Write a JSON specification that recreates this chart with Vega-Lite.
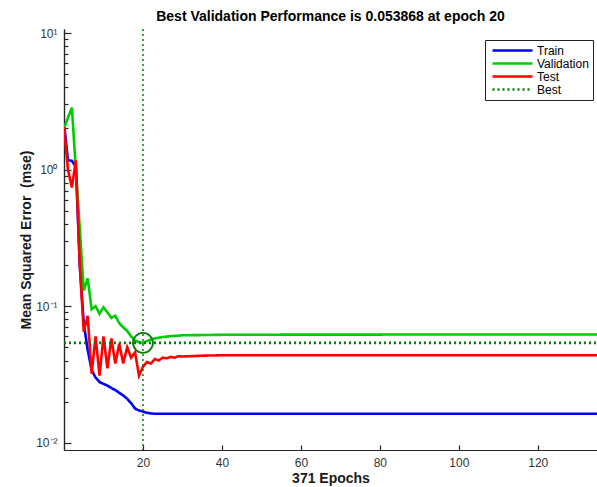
{
  "$schema": "https://vega.github.io/schema/vega-lite/v6.json",
  "width": 533,
  "height": 421,
  "autosize": {"type": "none"},
  "padding": {"left": 64, "top": 29, "right": 0, "bottom": 37},
  "background": "white",
  "config": {
    "view": {"stroke": null},
    "font": "Liberation Sans",
    "axis": {"grid": false, "domainColor": "#262626", "domainWidth": 1.2, "tickColor": "#262626", "tickWidth": 1.2, "labelColor": "#333333", "labelFont": "Liberation Sans", "labelFontSize": 12, "titleFont": "Liberation Sans", "titleFontSize": 14, "titleFontWeight": "bold", "titleColor": "#1a1a1a"}
  },
  "title": {"text": "Best Validation Performance is 0.053868 at epoch 20", "fontSize": 14, "fontWeight": "bold", "font": "Liberation Sans", "color": "black", "anchor": "middle", "baseline": "alphabetic", "offset": -8},
  "datasets": {
    "curves": [
      {"epoch": 0, "series": "Train", "mse": 2.2},
      {"epoch": 1, "series": "Train", "mse": 1.17},
      {"epoch": 2, "series": "Train", "mse": 1.16},
      {"epoch": 3, "series": "Train", "mse": 1.05},
      {"epoch": 4, "series": "Train", "mse": 0.2},
      {"epoch": 5, "series": "Train", "mse": 0.075},
      {"epoch": 6, "series": "Train", "mse": 0.048},
      {"epoch": 7, "series": "Train", "mse": 0.034},
      {"epoch": 8, "series": "Train", "mse": 0.03},
      {"epoch": 9, "series": "Train", "mse": 0.0278},
      {"epoch": 10, "series": "Train", "mse": 0.027},
      {"epoch": 11, "series": "Train", "mse": 0.0262},
      {"epoch": 12, "series": "Train", "mse": 0.0252},
      {"epoch": 13, "series": "Train", "mse": 0.0243},
      {"epoch": 14, "series": "Train", "mse": 0.0232},
      {"epoch": 15, "series": "Train", "mse": 0.0222},
      {"epoch": 16, "series": "Train", "mse": 0.021},
      {"epoch": 17, "series": "Train", "mse": 0.0195},
      {"epoch": 18, "series": "Train", "mse": 0.0178},
      {"epoch": 19, "series": "Train", "mse": 0.0172},
      {"epoch": 20, "series": "Train", "mse": 0.0169},
      {"epoch": 21, "series": "Train", "mse": 0.0166},
      {"epoch": 22, "series": "Train", "mse": 0.0164},
      {"epoch": 23, "series": "Train", "mse": 0.0163},
      {"epoch": 30, "series": "Train", "mse": 0.0163},
      {"epoch": 60, "series": "Train", "mse": 0.0163},
      {"epoch": 100, "series": "Train", "mse": 0.0163},
      {"epoch": 135, "series": "Train", "mse": 0.0163},
      {"epoch": 0, "series": "Validation", "mse": 2.0},
      {"epoch": 1, "series": "Validation", "mse": 2.4},
      {"epoch": 2, "series": "Validation", "mse": 2.84},
      {"epoch": 3, "series": "Validation", "mse": 1.0},
      {"epoch": 4, "series": "Validation", "mse": 0.37},
      {"epoch": 5, "series": "Validation", "mse": 0.13},
      {"epoch": 6, "series": "Validation", "mse": 0.16},
      {"epoch": 7, "series": "Validation", "mse": 0.095},
      {"epoch": 8, "series": "Validation", "mse": 0.1},
      {"epoch": 9, "series": "Validation", "mse": 0.088},
      {"epoch": 10, "series": "Validation", "mse": 0.098},
      {"epoch": 11, "series": "Validation", "mse": 0.09},
      {"epoch": 12, "series": "Validation", "mse": 0.082},
      {"epoch": 13, "series": "Validation", "mse": 0.085},
      {"epoch": 14, "series": "Validation", "mse": 0.075},
      {"epoch": 15, "series": "Validation", "mse": 0.07},
      {"epoch": 16, "series": "Validation", "mse": 0.066},
      {"epoch": 17, "series": "Validation", "mse": 0.06},
      {"epoch": 18, "series": "Validation", "mse": 0.056},
      {"epoch": 19, "series": "Validation", "mse": 0.0545},
      {"epoch": 20, "series": "Validation", "mse": 0.053868},
      {"epoch": 21, "series": "Validation", "mse": 0.0555},
      {"epoch": 22, "series": "Validation", "mse": 0.057},
      {"epoch": 23, "series": "Validation", "mse": 0.058},
      {"epoch": 24, "series": "Validation", "mse": 0.0588},
      {"epoch": 25, "series": "Validation", "mse": 0.0595},
      {"epoch": 27, "series": "Validation", "mse": 0.0603},
      {"epoch": 30, "series": "Validation", "mse": 0.0612},
      {"epoch": 40, "series": "Validation", "mse": 0.0617},
      {"epoch": 60, "series": "Validation", "mse": 0.0619},
      {"epoch": 100, "series": "Validation", "mse": 0.062},
      {"epoch": 135, "series": "Validation", "mse": 0.062},
      {"epoch": 0, "series": "Test", "mse": 2.05},
      {"epoch": 1, "series": "Test", "mse": 1.0},
      {"epoch": 2, "series": "Test", "mse": 0.74},
      {"epoch": 3, "series": "Test", "mse": 1.17},
      {"epoch": 4, "series": "Test", "mse": 0.2},
      {"epoch": 5, "series": "Test", "mse": 0.065},
      {"epoch": 6, "series": "Test", "mse": 0.085},
      {"epoch": 7, "series": "Test", "mse": 0.032},
      {"epoch": 8, "series": "Test", "mse": 0.06},
      {"epoch": 9, "series": "Test", "mse": 0.031},
      {"epoch": 10, "series": "Test", "mse": 0.06},
      {"epoch": 11, "series": "Test", "mse": 0.035},
      {"epoch": 12, "series": "Test", "mse": 0.058},
      {"epoch": 13, "series": "Test", "mse": 0.038},
      {"epoch": 14, "series": "Test", "mse": 0.053},
      {"epoch": 15, "series": "Test", "mse": 0.038},
      {"epoch": 16, "series": "Test", "mse": 0.05},
      {"epoch": 17, "series": "Test", "mse": 0.042},
      {"epoch": 18, "series": "Test", "mse": 0.046},
      {"epoch": 19, "series": "Test", "mse": 0.031},
      {"epoch": 20, "series": "Test", "mse": 0.036},
      {"epoch": 21, "series": "Test", "mse": 0.039},
      {"epoch": 22, "series": "Test", "mse": 0.038},
      {"epoch": 23, "series": "Test", "mse": 0.041},
      {"epoch": 24, "series": "Test", "mse": 0.04},
      {"epoch": 25, "series": "Test", "mse": 0.042},
      {"epoch": 26, "series": "Test", "mse": 0.0415},
      {"epoch": 27, "series": "Test", "mse": 0.0425},
      {"epoch": 28, "series": "Test", "mse": 0.042},
      {"epoch": 29, "series": "Test", "mse": 0.043},
      {"epoch": 30, "series": "Test", "mse": 0.0428},
      {"epoch": 35, "series": "Test", "mse": 0.0434},
      {"epoch": 40, "series": "Test", "mse": 0.0437},
      {"epoch": 80, "series": "Test", "mse": 0.0437},
      {"epoch": 135, "series": "Test", "mse": 0.0437},
      {"epoch": 0, "series": "Best", "mse": 0.053868},
      {"epoch": 135, "series": "Best", "mse": 0.053868}
    ],
    "best": [{"epoch": 20, "mse": 0.053868}]
  },
  "layer": [
    {
      "data": {"name": "curves"},
      "mark": {"type": "line", "clip": true},
      "encoding": {
        "x": {"field": "epoch", "type": "quantitative", "scale": {"domain": [0, 135], "nice": false, "zero": false},
          "axis": {"values": [20, 40, 60, 80, 100, 120], "tickSize": -5, "labelPadding": 12, "title": "371 Epochs", "titlePadding": 3}},
        "y": {"field": "mse", "type": "quantitative", "scale": {"type": "log", "domain": [0.00885, 10.7], "nice": false},
          "axis": {"values": [0.02, 0.03, 0.04, 0.05, 0.06, 0.07, 0.08, 0.09, 0.2, 0.3, 0.4, 0.5, 0.6, 0.7, 0.8, 0.9, 2, 3, 4, 5, 6, 7, 8, 9], "tickSize": -4, "labels": false, "title": null}},
        "color": {"field": "series", "type": "nominal", "sort": ["Train", "Validation", "Test", "Best"],
          "scale": {"domain": ["Train", "Validation", "Test", "Best"], "range": ["#0000ff", "#00cc00", "#ff0000", "#008000"]},
          "legend": {"orient": "none", "legendX": 421, "legendY": 11, "title": null, "strokeColor": "#222222", "fillColor": "white", "padding": 4, "symbolType": "M-4,0H4", "symbolSize": 100, "symbolOffset": 17, "symbolStrokeWidth": 3, "labelFontSize": 12, "labelFont": "Liberation Sans", "labelColor": "black", "labelOffset": 18, "rowPadding": 0}},
        "strokeDash": {"field": "series", "type": "nominal", "sort": ["Train", "Validation", "Test", "Best"],
          "scale": {"domain": ["Train", "Validation", "Test", "Best"], "range": [[1, 0], [1, 0], [1, 0], [2, 3]]}},
        "strokeWidth": {"field": "series", "type": "nominal", "sort": ["Train", "Validation", "Test", "Best"],
          "scale": {"domain": ["Train", "Validation", "Test", "Best"], "range": [2.6, 2.6, 2.6, 1.5]}}
      }
    },
    {
      "data": {"name": "best"},
      "mark": {"type": "rule", "color": "#008000", "strokeDash": [2, 3], "strokeWidth": 1.5},
      "encoding": {"x": {"field": "epoch", "type": "quantitative"}}
    },
    {
      "data": {"name": "best"},
      "mark": {"type": "point", "shape": "circle", "filled": false, "size": 400, "stroke": "#0a7d0a", "strokeWidth": 1.8, "opacity": 1},
      "encoding": {
        "x": {"field": "epoch", "type": "quantitative"},
        "y": {"field": "mse", "type": "quantitative",
          "axis": {"orient": "left", "values": [0.01, 0.1, 1, 10], "tickSize": -7, "labelPadding": 14, "title": "Mean Squared Error \u00a0(mse)", "titlePadding": 2,
            "labelExpr": "datum.value >= 5 ? '10¹' : datum.value >= 0.5 ? '10⁰' : datum.value >= 0.05 ? '10⁻¹' : '10⁻²'"}}
      }
    }
  ],
  "resolve": {"axis": {"y": "independent"}}
}
